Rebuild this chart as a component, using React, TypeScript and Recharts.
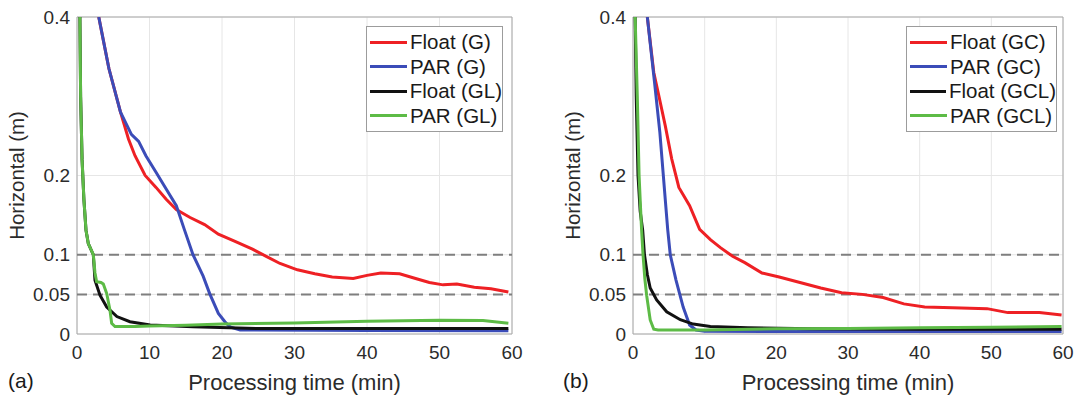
import React from 'react';
import {
    LineChart,
    Line,
    XAxis,
    YAxis,
    CartesianGrid,
    Legend,
    ReferenceLine,
    ReferenceArea,
} from 'recharts';

// Horizontal positioning error vs processing time, two panels (a) and (b).
// Each series is a list of [time (min), error (m)] pairs.

const TIME_TICKS = [0, 10, 20, 30, 40, 50, 60];
const ERROR_TICKS = [0, 0.05, 0.1, 0.2, 0.4];
const THRESHOLDS = [0.1, 0.05];

const floatG: [number, number][] = [
    [3.0, 0.4], [4.4, 0.335], [6.0, 0.28], [7.1, 0.246], [8.0, 0.225],
    [9.4, 0.2], [10.9, 0.185], [12.3, 0.17], [13.7, 0.157], [15.6, 0.147],
    [17.6, 0.138], [19.5, 0.126], [21.8, 0.117], [24.2, 0.107], [26.1, 0.098],
    [28.0, 0.089], [30.4, 0.081], [32.8, 0.076], [35.2, 0.072], [38.1, 0.07],
    [40.0, 0.074], [41.9, 0.077], [44.5, 0.076], [46.7, 0.07], [48.6, 0.065],
    [50.5, 0.062], [52.4, 0.063], [54.8, 0.059], [57.1, 0.057], [59.5, 0.053],
];
const parG: [number, number][] = [
    [3.0, 0.4], [4.4, 0.335], [6.0, 0.28], [7.5, 0.252], [8.5, 0.243],
    [9.5, 0.225], [10.9, 0.204], [12.3, 0.183], [13.7, 0.162], [14.8, 0.132],
    [16.0, 0.1], [17.4, 0.073], [18.3, 0.051], [19.5, 0.026], [20.4, 0.0155],
    [21.1, 0.009], [22.5, 0.005], [40, 0.0045], [59.5, 0.004],
];
const floatGL: [number, number][] = [
    [0.4, 0.4], [0.5, 0.3], [0.7, 0.22], [0.95, 0.17], [1.24, 0.131],
    [1.56, 0.114], [2.25, 0.1], [2.48, 0.068], [3.17, 0.049], [4.1, 0.034],
    [5.5, 0.022], [7.3, 0.0155], [10.1, 0.0114], [16, 0.0093], [24.8, 0.0068],
    [40, 0.007], [59.5, 0.007],
];
const parGL: [number, number][] = [
    [0.4, 0.4], [0.5, 0.3], [0.7, 0.22], [0.95, 0.17], [1.24, 0.131],
    [1.56, 0.114], [2.25, 0.1], [2.48, 0.077], [2.71, 0.066], [3.3, 0.065],
    [3.63, 0.063], [4.1, 0.051], [4.55, 0.03], [4.78, 0.0135], [5.24, 0.0095],
    [8, 0.0095], [10, 0.01], [15, 0.011], [20, 0.0125], [30, 0.014],
    [40, 0.016], [50, 0.0175], [56, 0.017], [59.5, 0.0135],
];

const floatGC: [number, number][] = [
    [2.0, 0.4], [2.9, 0.33], [3.5, 0.305], [4.5, 0.263], [5.4, 0.221],
    [6.4, 0.185], [7.9, 0.162], [9.3, 0.132], [10.8, 0.119], [12.2, 0.109],
    [13.9, 0.098], [15.6, 0.09], [18.0, 0.077], [20.4, 0.072], [23.3, 0.065],
    [26.2, 0.058], [29.1, 0.052], [32.0, 0.05], [34.9, 0.046], [37.8, 0.038],
    [40.7, 0.034], [44.6, 0.033], [49.4, 0.032], [52.3, 0.027], [56.7, 0.027],
    [59.8, 0.024],
];
const parGC: [number, number][] = [
    [2.0, 0.4], [3.0, 0.318], [3.75, 0.254], [4.5, 0.17], [4.85, 0.131],
    [5.2, 0.1], [6.0, 0.068], [7.0, 0.034], [7.9, 0.0114], [8.8, 0.005],
    [10, 0.0035], [30, 0.003], [59.8, 0.003],
];
const floatGCL: [number, number][] = [
    [0.3, 0.4], [0.45, 0.3], [0.7, 0.2], [1.0, 0.155], [1.35, 0.131],
    [1.6, 0.1], [2.0, 0.075], [2.4, 0.058], [3.3, 0.043], [4.7, 0.028],
    [6.6, 0.018], [8.4, 0.0125], [10.8, 0.0095], [16, 0.008], [25, 0.0065],
    [40, 0.006], [59.8, 0.006],
];
const parGCL: [number, number][] = [
    [0.3, 0.4], [0.6, 0.3], [0.85, 0.2], [1.05, 0.16], [1.2, 0.131],
    [1.4, 0.1], [1.65, 0.07], [1.9, 0.049], [2.4, 0.0177], [2.9, 0.006],
    [3.5, 0.005], [10, 0.005], [20, 0.0065], [30, 0.007], [40, 0.008],
    [50, 0.0085], [59.8, 0.0095],
];

const RED = '#ee2024';
const BLUE = '#3b4cb8';
const BLACK = '#111111';
const GREEN = '#5dbb46';

const FONT = '"Liberation Sans", Arial, Helvetica, sans-serif';
const TEXT = '#2b2b2b';

const toPoints = (pairs: [number, number][]) => pairs.map(([t, v]) => ({ t, v }));

interface Series {
    name: string;
    color: string;
    data: [number, number][];
}

interface PanelProps {
    letter: string;
    series: Series[];
    left: number;
    width: number;
    yAxisWidth: number;
    marginRight: number;
    yTitleX: number;
    legendLeft: number;
    legendWidth: number;
    letterLeft: number;
}

// Legend keeps the series order (recharts would sort by name otherwise).
function LegendBox({ series, width }: { series: Series[]; width: number }) {
    return (
        <div
            style={{
                width,
                boxSizing: 'border-box',
                border: '1px solid #9c9c9c',
                background: '#fff',
                padding: '3px 0 3px 3px',
                fontFamily: FONT,
            }}
        >
            {series.map((s) => (
                <div
                    key={s.name}
                    style={{ display: 'flex', alignItems: 'center', height: 24.5 }}
                >
                    <span
                        style={{
                            display: 'inline-block',
                            width: 37,
                            height: 3,
                            background: s.color,
                            marginRight: 3,
                        }}
                    />
                    <span style={{ fontSize: 20.5, color: '#1a1a1a', lineHeight: 1, whiteSpace: 'nowrap' }}>
                        {s.name}
                    </span>
                </div>
            ))}
        </div>
    );
}

function Panel(props: PanelProps) {
    const {
        letter, series, left, width, yAxisWidth, marginRight,
        yTitleX, legendLeft, legendWidth, letterLeft,
    } = props;
    const height = 397;

    return (
        <div style={{ position: 'absolute', left, top: 0, width, height }}>
            <LineChart
                width={width}
                height={height}
                margin={{ top: 17, right: marginRight, bottom: 0, left: 0 }}
            >
                <CartesianGrid stroke="#e6e6e6" strokeWidth={1} />
                <XAxis
                    dataKey="t"
                    type="number"
                    domain={[0, 60]}
                    ticks={TIME_TICKS}
                    allowDataOverflow
                    height={63}
                    axisLine={false}
                    tickLine={false}
                    tickSize={0}
                    tickMargin={12}
                    tick={{ fontSize: 19, fill: TEXT, fontFamily: FONT }}
                    label={{
                        content: ({ viewBox }: any) => (
                            <text
                                x={viewBox.x + viewBox.width / 2}
                                y={viewBox.y + 56}
                                textAnchor="middle"
                                fontSize={22}
                                fill={TEXT}
                                fontFamily={FONT}
                            >
                                Processing time (min)
                            </text>
                        ),
                    }}
                />
                <YAxis
                    type="number"
                    domain={[0, 0.4]}
                    ticks={ERROR_TICKS}
                    allowDataOverflow
                    width={yAxisWidth}
                    axisLine={false}
                    tickLine={false}
                    tickSize={0}
                    tickMargin={7}
                    tick={{ fontSize: 19, fill: TEXT, fontFamily: FONT }}
                    label={{
                        content: ({ viewBox }: any) => {
                            const cy = viewBox.y + viewBox.height / 2;
                            return (
                                <text
                                    x={yTitleX}
                                    y={cy}
                                    transform={`rotate(-90 ${yTitleX} ${cy})`}
                                    textAnchor="middle"
                                    dominantBaseline="central"
                                    fontSize={20.5}
                                    fill={TEXT}
                                    fontFamily={FONT}
                                >
                                    Horizontal (m)
                                </text>
                            );
                        },
                    }}
                />
                {THRESHOLDS.map((y) => (
                    <ReferenceLine
                        key={y}
                        y={y}
                        stroke="#7f7f7f"
                        strokeWidth={2}
                        strokeDasharray="10 6"
                    />
                ))}
                {series.map((s) => (
                    <Line
                        key={s.name}
                        data={toPoints(s.data)}
                        dataKey="v"
                        name={s.name}
                        type="linear"
                        stroke={s.color}
                        strokeWidth={3}
                        dot={false}
                        activeDot={false}
                        isAnimationActive={false}
                    />
                ))}
                <ReferenceArea
                    x1={0}
                    x2={60}
                    y1={0}
                    y2={0.4}
                    fill="none"
                    stroke="#a8a8a8"
                    strokeWidth={1}
                    ifOverflow="visible"
                />
                <Legend
                    layout="vertical"
                    align="center"
                    verticalAlign="middle"
                    wrapperStyle={{ left: legendLeft, top: 26, width: legendWidth }}
                    content={() => <LegendBox series={series} width={legendWidth} />}
                />
            </LineChart>
            <div
                style={{
                    position: 'absolute',
                    left: letterLeft,
                    top: 369,
                    fontSize: 21,
                    fontFamily: FONT,
                    color: '#1a1a1a',
                    lineHeight: '24px',
                }}
            >
                {letter}
            </div>
        </div>
    );
}

export default function App() {
    const seriesA: Series[] = [
        { name: 'Float (G)', color: RED, data: floatG },
        { name: 'PAR (G)', color: BLUE, data: parG },
        { name: 'Float (GL)', color: BLACK, data: floatGL },
        { name: 'PAR (GL)', color: GREEN, data: parGL },
    ];
    const seriesB: Series[] = [
        { name: 'Float (GC)', color: RED, data: floatGC },
        { name: 'PAR (GC)', color: BLUE, data: parGC },
        { name: 'Float (GCL)', color: BLACK, data: floatGCL },
        { name: 'PAR (GCL)', color: GREEN, data: parGCL },
    ];

    return (
        <div
            style={{
                position: 'absolute',
                left: 0,
                top: 0,
                width: 1077,
                height: 397,
                background: '#fff',
                fontFamily: FONT,
                overflow: 'hidden',
            }}
        >
            <Panel
                letter="(a)"
                series={seriesA}
                left={0}
                width={537}
                yAxisWidth={77}
                marginRight={25}
                yTitleX={16}
                legendLeft={366}
                legendWidth={137}
                letterLeft={8}
            />
            <Panel
                letter="(b)"
                series={seriesB}
                left={537}
                width={540}
                yAxisWidth={96}
                marginRight={14}
                yTitleX={35.5}
                legendLeft={369}
                legendWidth={151}
                letterLeft={26}
            />
        </div>
    );
}
